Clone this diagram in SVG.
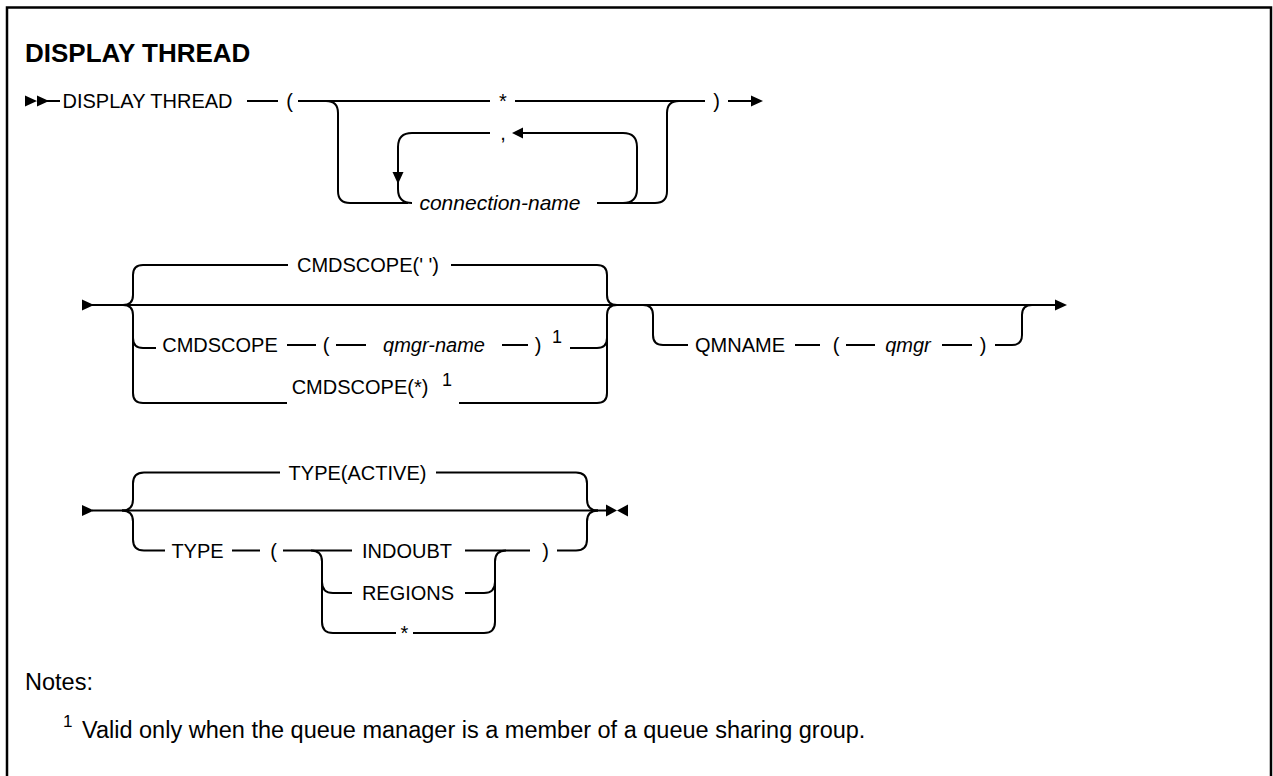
<svg xmlns="http://www.w3.org/2000/svg" width="1273" height="776" viewBox="0 0 1273 776">
<style>
.l{fill:none;stroke:#000;stroke-width:2}
.a{fill:#000;stroke:none}
.t{font-family:"Liberation Sans",Arial,sans-serif;font-size:20px;fill:#000;text-anchor:middle}
.i{font-style:italic}
.s{font-family:"Liberation Sans",Arial,sans-serif;font-size:18px;fill:#000;text-anchor:middle}
.n{font-family:"Liberation Sans",Arial,sans-serif;font-size:23.5px;fill:#000}
</style>
<rect width="1273" height="776" fill="#fff"/>
<path d="M7,776 V7.5 H1271 V776" fill="none" stroke="#000" stroke-width="2.5"/>
<text x="25" y="62" font-family="'Liberation Sans',Arial,sans-serif" font-size="26" font-weight="bold">DISPLAY THREAD</text>

<g id="connectors">
  <!-- row 1 -->
  <path class="a" d="M25,95.5 L37,101 L25,106.5 Z M37,95.5 L49,101 L37,106.5 Z"/>
  <path class="l" d="M45,101 H60"/>
  <path class="l" d="M247,101 H278"/>
  <path class="l" d="M298,101 H490 M515,101 H705"/>
  <path class="l" d="M728,101 H752"/>
  <path class="a" d="M751,95.5 L763,101 L751,106.5 Z"/>
  <path class="l" d="M326,101 Q338,101 338,113 V191 Q338,203 350,203 H408"/>
  <path class="l" d="M597,203 H655 Q667,203 667,191 V113 Q667,101 679,101"/>
  <path class="l" d="M623,203 Q637,203 637,189 V147 Q637,133 623,133 H522"/>
  <path class="a" d="M512,133 L523,127.5 L523,138.5 Z"/>
  <path class="l" d="M490,133 H412 Q398,133 398,147 V189 Q398,203 412,203"/>
  <path class="a" d="M392.5,172 L403.5,172 L398,184 Z"/>
  <!-- row 2 -->
  <path class="a" d="M82,299.5 L94,305 L82,310.5 Z"/>
  <path class="l" d="M92,305 H1056"/>
  <path class="a" d="M1055,299.5 L1067,305 L1055,310.5 Z"/>
  <path class="l" d="M123,305 Q133,305 133,295 V275 Q133,265 143,265 H288 M451,265 H597 Q607,265 607,275 V295 Q607,305 617,305"/>
  <path class="l" d="M123,305 Q133,305 133,315 V393 Q133,403 143,403 H287 M459,403 H597 Q607,403 607,393 V315 Q607,305 617,305"/>
  <path class="l" d="M133,338 Q133,348 143,348 H156 M287,345 H316 M336,345 H366 M502,345 H528 M570,348 H597 Q607,348 607,338"/>
  <path class="l" d="M643,305 Q653,305 653,315 V335 Q653,345 663,345 H688 M795,345 H820 M846,345 H875 M942,345 H972 M995,345 H1012 Q1022,345 1022,335 V315 Q1022,305 1032,305"/>
  <!-- row 3 -->
  <path class="a" d="M82,505 L94,510.5 L82,516 Z"/>
  <path class="l" d="M92,510.5 H607"/>
  <path class="a" d="M606,504.5 L617,510.5 L606,516.5 Z M628,504.5 L617,510.5 L628,516.5 Z"/>
  <path class="l" d="M122,510.5 Q133,510.5 133,499.5 V483.5 Q133,472.5 144,472.5 H280 M436,472.5 H576 Q587,472.5 587,483.5 V499.5 Q587,510.5 598,510.5"/>
  <path class="l" d="M122,510.5 Q133,510.5 133,521.5 V539.5 Q133,550.5 144,550.5 H165 M232,550.5 H260 M283,550.5 H352 M465,550.5 H530 M557,550.5 H576 Q587,550.5 587,539.5 V521.5 Q587,510.5 598,510.5"/>
  <path class="l" d="M311,550.5 Q322,550.5 322,561.5 V582 Q322,593 333,593 H352 M465,593 H484 Q495,593 495,582 V561.5 Q495,550.5 506,550.5"/>
  <path class="l" d="M322,580 V622 Q322,633 333,633 H396 M413,633 H484 Q495,633 495,622 V580"/>
</g>

<g id="n-display"><text class="t" x="147.5" y="108">DISPLAY THREAD</text></g>
<g id="n-lp1"><text class="t" x="289.5" y="108">(</text></g>
<g id="n-star1"><text class="t" x="503" y="108">*</text></g>
<g id="n-comma"><text class="t" x="503" y="140">,</text></g>
<g id="n-connname"><text class="t i" x="500" y="210" style="font-size:21px">connection-name</text></g>
<g id="n-rp1"><text class="t" x="716.5" y="108">)</text></g>

<g id="n-cmdscope-blank"><text class="t" x="368" y="272">CMDSCOPE(' ')</text></g>
<g id="n-cmdscope-q">
  <text class="t" x="220" y="352">CMDSCOPE</text>
  <text class="t" x="326" y="352">(</text>
  <text class="t i" x="434" y="352">qmgr-name</text>
  <text class="t" x="538" y="352">)</text>
  <text class="s" x="557" y="343">1</text>
</g>
<g id="n-cmdscope-star">
  <text class="t" x="360" y="394">CMDSCOPE(*)</text>
  <text class="s" x="447" y="386">1</text>
</g>
<g id="n-qmname">
  <text class="t" x="740" y="352">QMNAME</text>
  <text class="t" x="836" y="352">(</text>
  <text class="t i" x="908" y="352">qmgr</text>
  <text class="t" x="983" y="352">)</text>
</g>

<g id="n-active"><text class="t" x="357.5" y="480">TYPE(ACTIVE)</text></g>
<g id="n-type">
  <text class="t" x="197.5" y="558">TYPE</text>
  <text class="t" x="273.5" y="558">(</text>
  <text class="t" x="545.5" y="558">)</text>
</g>
<g id="n-indoubt"><text class="t" x="407" y="558">INDOUBT</text></g>
<g id="n-regions"><text class="t" x="408" y="600">REGIONS</text></g>
<g id="n-star2"><text class="t" x="404.5" y="640">*</text></g>

<g id="notes">
  <text class="n" x="25" y="690">Notes:</text>
  <text x="63" y="727" font-family="'Liberation Sans',Arial,sans-serif" font-size="17">1</text>
  <text class="n" x="82" y="738">Valid only when the queue manager is a member of a queue sharing group.</text>
</g>
</svg>
